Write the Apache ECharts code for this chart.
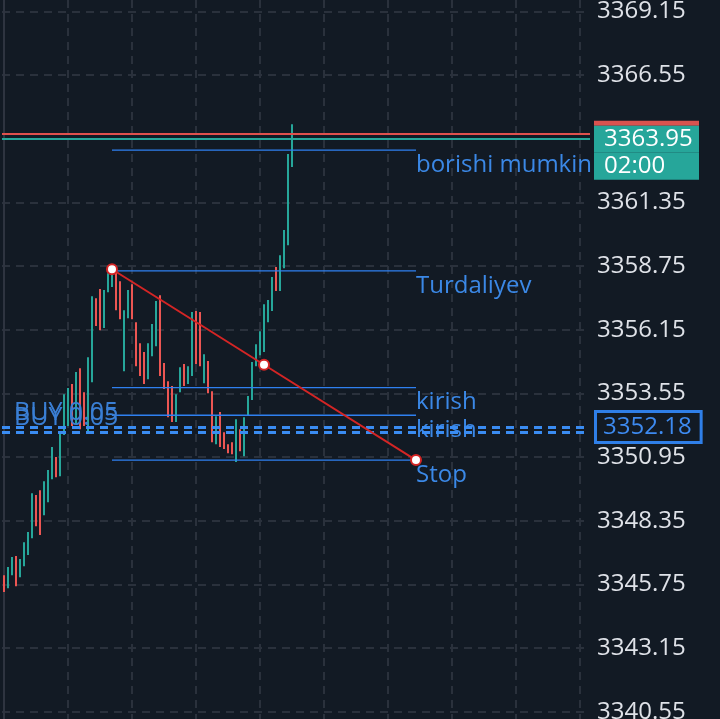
<!DOCTYPE html>
<html><head><meta charset="utf-8">
<script src="https://cdn.jsdelivr.net/npm/echarts@6/dist/echarts.min.js"></script>
<style>html,body{margin:0;padding:0;background:#121a24;}#c{width:720px;height:719px;}</style>
</head><body><div id="c"></div>
<script>
// ---- data ----
const candleOpen = [3346.13,3345.60,3346.13,3346.91,3346.05,3346.50,3346.95,3347.64,3349.40,3349.60,
  3348.58,3349.11,3350.05,3350.95,3350.17,3351.85,3352.22,3353.93,3352.30,3354.58,
  3353.60,3352.01,3354.01,3357.44,3357.81,3356.22,3357.68,3357.89,3358.50,3358.13,
  3354.46,3356.62,3358.01,3356.46,3355.60,3355.24,3354.13,3355.07,3355.48,3357.56,
  3354.79,3354.05,3353.85,3352.38,3353.60,3354.75,3353.93,3354.26,3356.91,3356.87,
  3353.97,3354.87,3353.64,3351.48,3352.79,3351.97,3351.48,3351.56,3350.75,3352.09,
  3350.99,3352.66,3353.28,3354.66,3355.11,3355.24,3356.46,3356.91,3358.71,3357.73,
  3358.66,3359.60,3362.79];
const candleClose = [3345.44,3346.46,3346.87,3345.68,3346.79,3347.48,3347.89,3349.48,3348.13,3347.77,
  3349.97,3350.42,3351.36,3350.13,3351.89,3353.52,3353.77,3352.22,3354.42,3352.09,
  3352.22,3355.03,3357.52,3356.30,3356.13,3357.77,3358.46,3358.62,3356.95,3356.58,
  3356.95,3357.77,3356.58,3354.66,3354.26,3353.93,3355.60,3356.38,3357.32,3354.26,
  3353.73,3352.58,3352.38,3353.52,3354.62,3353.85,3354.66,3356.87,3354.75,3354.66,
  3355.15,3353.56,3351.56,3352.62,3351.36,3351.28,3351.11,3351.07,3352.50,3351.19,
  3352.58,3353.44,3354.83,3355.56,3356.09,3357.19,3357.36,3358.30,3357.73,3359.19,
  3360.22,3363.32,3363.95];
const candleLow = [3345.44,3345.60,3346.13,3345.68,3346.05,3346.50,3346.95,3347.64,3348.13,3347.77,
  3348.58,3349.11,3350.05,3350.13,3350.17,3351.85,3352.22,3352.22,3352.30,3352.09,
  3352.22,3352.01,3354.01,3356.30,3356.13,3356.22,3357.68,3357.89,3356.95,3356.58,
  3354.46,3356.62,3356.58,3354.66,3354.26,3353.93,3354.13,3355.07,3355.48,3354.26,
  3353.73,3352.58,3352.38,3352.38,3353.60,3353.85,3353.93,3354.26,3354.75,3354.66,
  3353.97,3353.56,3351.56,3351.48,3351.36,3351.28,3351.11,3351.07,3350.75,3351.19,
  3350.99,3352.66,3353.28,3354.66,3355.11,3355.24,3356.46,3356.91,3357.73,3357.73,
  3358.66,3359.60,3362.79];
const candleHigh = [3346.13,3346.46,3346.87,3346.91,3346.79,3347.48,3347.89,3349.48,3349.40,3349.60,
  3349.97,3350.42,3351.36,3350.95,3351.89,3353.52,3353.77,3353.93,3354.42,3354.58,
  3353.60,3355.03,3357.52,3357.44,3357.81,3357.77,3358.46,3358.62,3358.50,3358.13,
  3356.95,3357.77,3358.01,3356.46,3355.60,3355.24,3355.60,3356.38,3357.32,3357.56,
  3354.79,3354.05,3353.85,3353.52,3354.62,3354.75,3354.66,3356.87,3356.91,3356.87,
  3355.15,3354.87,3353.64,3352.62,3352.79,3351.97,3351.48,3351.56,3352.50,3352.09,
  3352.58,3353.44,3354.83,3355.56,3356.09,3357.19,3357.36,3358.30,3358.71,3359.19,
  3360.22,3363.32,3364.54];
const slotCount = 147;                 // bar slots on the time axis (incl. empty future space)
const priceTicks = [3340.55,3343.15,3345.75,3348.35,3350.95,3353.55,3356.15,3358.75,3361.35,3363.95,3366.55,3369.15];
const timeGridSlots = [0,16,32,48,64,80,96,112,128,144];
const priceMin = 3340.26, priceMax = 3369.61;
const bidPrice = 3363.95, askPrice = 3364.15, timeLeft = '02:00';
const buyPrices = [3352.18, 3351.96];
const buyLabel = 'BUY 0.05';
const levelNames = ['borishi mumkin','Turdaliyev','kirish','kirish','Stop'];
const levelValues = [3363.48, 3358.55, 3353.79, 3352.66, 3350.83];
const levelFrom = 27, levelTo = 103;
const trendX = [27, 65, 103];
const trendY = [3358.62, 3354.72, 3350.83];

// ---- chart ----
const FONT = 'Open Sans';
const TEAL = '#26a69a', RED = '#ec5653', BLUE = '#3b88e6';
const gridLine = {color:'#2a313c', width:2, type:[8,6]};
const cats = Array.from({length: slotCount}, (_, i) => String(i));
const NONE = 'rgba(0,0,0,0)';

const levelSeries = levelNames.map((name, k) => ({
  type:'line', xAxisIndex:0, z:4, silent:true,
  symbol:'circle', symbolSize:0, showSymbol:true, showAllSymbol:true,
  lineStyle:{color:'#2f80f0', width:1.3},
  itemStyle:{color:'#2f80f0'},
  label:{show:false},
  data:[[levelFrom, levelValues[k]], {value:[levelTo, levelValues[k]],
    label:{show:true, position:[0,3], align:'left', verticalAlign:'top', formatter:name,
      color:BLUE, fontSize:24, fontFamily:FONT}}]
}));

const buyLabelStyle = {show:true, position:'insideStartTop', distance:[12,2], formatter:buyLabel,
  color:'#3a7fd5', fontSize:25, fontFamily:FONT};

const option = {
  backgroundColor:'#121a24',
  animation:false,
  grid:{left:2, right:130, top:0, bottom:0, outerBoundsMode:'none', containLabel:false},
  xAxis:[
    {type:'category', data:cats, boundaryGap:true, show:false},
    {type:'value', min:-0.5, max:slotCount-0.5,
     axisLine:{show:false}, axisLabel:{show:false},
     axisTick:{show:false, customValues:timeGridSlots},
     splitLine:{show:true, lineStyle:gridLine}}
  ],
  yAxis:{type:'value', position:'right', min:priceMin, max:priceMax,
    axisLine:{show:true, lineStyle:{color:'#2e3440', width:2}},
    axisTick:{show:false, customValues:priceTicks},
    axisLabel:{customValues:priceTicks, color:'#dfe2e8', fontSize:24, fontFamily:FONT, margin:7,
      formatter:v => v.toFixed(2)},
    splitLine:{show:true, lineStyle:gridLine}
  },
  series:[
    {type:'line', xAxisIndex:0, data:[], z:1, silent:true,
     markLine:{symbol:'none', silent:true, animation:false,
       data:[
         {yAxis:askPrice, lineStyle:{color:'#e0504d', width:2, type:'solid'}, label:{show:false}},
         {yAxis:bidPrice, lineStyle:{color:TEAL, width:2, type:'solid'}, label:{show:false}},
         {yAxis:buyPrices[0], lineStyle:{color:'#3a8cf2', width:3, type:[8,6]}, label:buyLabelStyle},
         {yAxis:buyPrices[1], lineStyle:{color:'#3a8cf2', width:3, type:[8,6]}, label:buyLabelStyle}
       ]}},
    {type:'custom', xAxisIndex:0, z:3, silent:true,
     encode:{x:0, y:[1,2,3,4]},
     data:candleOpen.map((o, i) => [i, o, candleClose[i], candleLow[i], candleHigh[i]]),
     renderItem:(params, api) => {
       const i = api.value(0);
       const top = api.coord([i, api.value(4)]);
       const bot = api.coord([i, api.value(3)]);
       const up = api.value(2) >= api.value(1);
       return {type:'rect',
         shape:{x:Math.round(top[0]) - 1, y:top[1], width:2, height:Math.max(1, bot[1] - top[1])},
         style:{fill: up ? TEAL : RED}};
     }},
    ...levelSeries,
    {type:'line', xAxisIndex:0, z:5, silent:true,
     data:trendX.map((x, i) => [x, trendY[i]]),
     symbol:'circle', symbolSize:10, showSymbol:true, showAllSymbol:true,
     lineStyle:{color:'#d42525', width:2},
     itemStyle:{color:'#ffffff', borderColor:'#d42525', borderWidth:2}},
    {type:'line', xAxisIndex:0, data:[], z:10, silent:true,
     markLine:{symbol:'none', silent:true, animation:false,
       data:[
         {yAxis:bidPrice, lineStyle:{color:NONE, width:1},
          label:{show:true, position:'end', distance:4,
            formatter:'{g|}\n{s|}\n{p|' + bidPrice.toFixed(2) + '}\n{p|' + timeLeft + '}',
            rich:{
              g:{width:105, height:23, lineHeight:23},
              s:{width:105, height:5, lineHeight:5, backgroundColor:'#d9534f'},
              p:{width:95, height:27, lineHeight:27, padding:[0,0,0,10], backgroundColor:TEAL,
                 color:'#ffffff', fontSize:24, fontFamily:FONT}
            }}},
         {yAxis:buyPrices[0], lineStyle:{color:NONE, width:1},
          label:{show:true, position:'end', distance:7, formatter:buyPrices[0].toFixed(2),
            color:'#3d8af0', fontSize:24, fontFamily:FONT, backgroundColor:'#121a24',
            borderColor:'#2f7fe8', borderWidth:3, padding:[2,8,2,6]}}
       ]}}
  ]
};
const chart = echarts.init(document.getElementById('c'), null, {renderer:'canvas'});
chart.setOption(option);
</script></body></html>
